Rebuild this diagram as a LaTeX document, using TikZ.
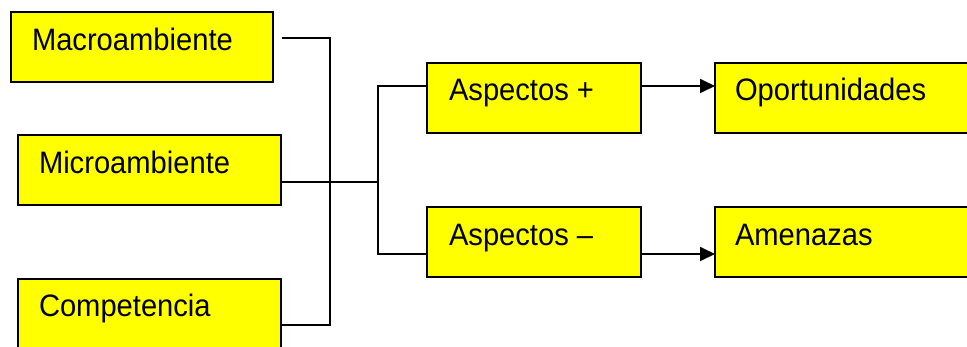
\documentclass[tikz,border=0pt]{standalone}
\usepackage{fontspec}
\setmainfont{Liberation Sans}[FakeStretch=0.94]
\usetikzlibrary{arrows.meta,calc}
\definecolor{boxyellow}{HTML}{FFFF00}
\tikzset{
  x=1pt, y=-1pt,
  box/.style={draw=black, fill=boxyellow, line width=2pt, rectangle, inner sep=0pt, outer sep=0pt},
  lbl/.style={anchor=base west, inner sep=0pt, outer sep=0pt, font=\fontsize{31}{35}\selectfont},
  conn/.style={draw=black, line width=1.8pt},
  arr/.style={conn, -{Triangle[length=15pt,width=14pt]}},
}
\begin{document}
\begin{tikzpicture}
\useasboundingbox (0,0) rectangle (967,346);
\clip (0,0) rectangle (967,346);
% boxes
\node[box, minimum width=262pt, minimum height=70pt, anchor=north west] (macro) at (11,12) {};
\node[box, minimum width=263pt, minimum height=70pt, anchor=north west] (micro) at (18,135) {};
\node[box, minimum width=263pt, minimum height=80pt, anchor=north west] (comp) at (18,279) {};
\node[box, minimum width=214pt, minimum height=70pt, anchor=north west] (aspP) at (427,63) {};
\node[box, minimum width=214pt, minimum height=70pt, anchor=north west] (aspM) at (427,207) {};
\node[box, minimum width=266pt, minimum height=70pt, anchor=north west] (opor) at (715,63) {};
\node[box, minimum width=266pt, minimum height=70pt, anchor=north west] (amen) at (715,207) {};
% labels
\node[lbl] (macroT) at (32,50) {Macroambiente};
\node[lbl] (microT) at (39,173) {Microambiente};
\node[lbl] (compT) at (39,316) {Competencia};
\node[lbl] (aspPT) at (449,100) {Aspectos +};
\node[lbl] (aspMT) at (449,245) {Aspectos --};
\node[lbl] (oporT) at (735,100) {Oportunidades};
\node[lbl] (amenT) at (735,245) {Amenazas};
% junction coordinates
\coordinate (macroOut) at (282,38);
\coordinate (bus) at (330,38);
\coordinate (compIn) at (330,325);
\coordinate (hub) at (378,182);
\coordinate (hubTop) at (378,86);
\coordinate (hubBot) at (378,254);
% connectors
\draw[conn] (macroOut) -- (bus) -- (compIn) -- (comp.east |- compIn);
\draw[conn] (micro.east |- hub) -- (hub);
\draw[conn] (aspP.west |- hubTop) -- (hubTop) -- (hubBot) -- (aspM.west |- hubBot);
\draw[arr] (aspP.east |- hubTop) -- (opor.west |- hubTop);
\draw[arr] (aspM.east |- hubBot) -- (amen.west |- hubBot);
\end{tikzpicture}
\end{document}
